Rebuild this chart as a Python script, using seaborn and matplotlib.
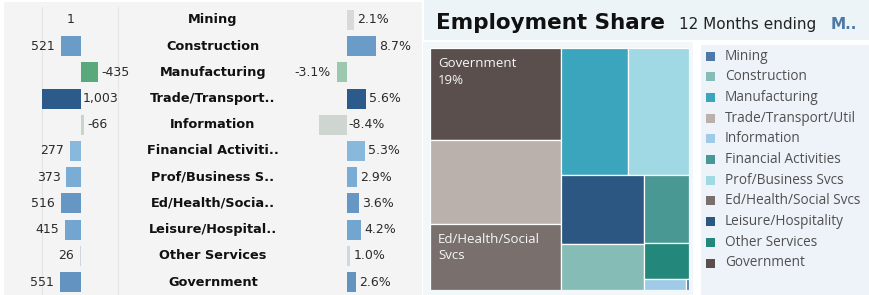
import numpy as np
import pandas as pd
import matplotlib
matplotlib.use("Agg")
import matplotlib.pyplot as plt
import matplotlib.transforms as mtransforms
from matplotlib.patches import Rectangle
import seaborn as sns

# ---------------- data ----------------
industries = ["Mining", "Construction", "Manufacturing", "Trade/Transport/Util",
              "Information", "Financial Activities", "Prof/Business Svcs",
              "Ed/Health/Social Svcs", "Leisure/Hospitality", "Other Services",
              "Government"]
row_labels = ["Mining", "Construction", "Manufacturing", "Trade/Transport..",
              "Information", "Financial Activiti..", "Prof/Business S..",
              "Ed/Health/Socia..", "Leisure/Hospital..", "Other Services",
              "Government"]
job_change = [1, 521, -435, 1003, -66, 277, 373, 516, 415, 26, 551]
pct_change = [2.1, 8.7, -3.1, 5.6, -8.4, 5.3, 2.9, 3.6, 4.2, 1.0, 2.6]
employment_share = [0.05, 6.0, 13.5, 17.7, 0.7, 4.9, 12.3, 13.8, 9.1, 2.6, 19.3]

change_colors = ["#d7d7d7", "#6a9cc7", "#59a97c", "#2c5a8b", "#c5d7cb", "#88b8dc",
                 "#79add5", "#6697c4", "#72a6d1", "#cdd6df", "#6394c1"]
pct_colors = ["#d9d9d9", "#6a9cc7", "#9bc8ae", "#2c5a8b", "#cfd5d1", "#88b8dc",
              "#79add5", "#6697c4", "#72a6d1", "#cfd7df", "#6394c1"]
share_colors = ["#4e79a7", "#86bcb6", "#3aa5bc", "#bab0ac", "#a0cbe8", "#499894",
                "#a0d9e4", "#79706e", "#2b5782", "#23877b", "#5a4f4d"]
tile_labels = {"Government": "Government\n{pct}%", "Ed/Health/Social Svcs": "Ed/Health/Social\nSvcs"}

title = "Employment Share"
subtitle = "12 Months ending"
subtitle_tail = "M.."

df = pd.DataFrame({"label": row_labels, "change": job_change, "pct": pct_change})

# ---------------- figure helpers ----------------
W, H = 869, 295
fig = plt.figure(figsize=(W / 100, H / 100), dpi=100)
fig.patch.set_facecolor("white")
PX = mtransforms.Affine2D().scale(1 / W, -1 / H).translate(0, 1) + fig.transFigure


def ax_px(x0, y0, x1, y1):
    ax = fig.add_axes([x0 / W, 1 - y1 / H, (x1 - x0) / W, (y1 - y0) / H])
    ax.patch.set_alpha(0)
    return ax


def bg(x0, y0, x1, y1, color):
    fig.add_artist(Rectangle((x0, y0), x1 - x0, y1 - y0, transform=PX,
                             facecolor=color, edgecolor="none", zorder=-5))


def px2pt(p):
    return p * 72 / 100


# backgrounds
bg(4, 2, 422, 295, "#f4f4f4")
bg(424, 0, 869, 40, "#edf4f8")
bg(423, 42, 693, 295, "#f2f8f9")
bg(701, 45, 869, 295, "#eef2f9")

n = len(row_labels)
ROW_TOP, ROW_BOT = 6.9, 295.1


def bar_labels(ax, values, fmt, gap_out_left=6, gap_out_right=3.5):
    renderer = fig.canvas.get_renderer()
    axbb = ax.get_window_extent(renderer)
    for i, v in enumerate(values):
        x_end = ax.transData.transform((v, i))[0]
        x_zero = ax.transData.transform((0, i))[0]
        goes_left = x_end < x_zero
        kw = dict(va="center", fontsize=9, color="#2b2b2b", textcoords="offset points",
                  annotation_clip=False)
        if goes_left:
            t = ax.annotate(fmt(v), xy=(v, i), xytext=(-px2pt(gap_out_left), 0), ha="right", **kw)
        else:
            t = ax.annotate(fmt(v), xy=(v, i), xytext=(px2pt(gap_out_right), 0), ha="left", **kw)
        bb = t.get_window_extent(renderer)
        if bb.x0 < axbb.x0 or bb.x1 > axbb.x1:
            t.remove()
            if goes_left:
                ax.annotate(fmt(v), xy=(0, i), xytext=(px2pt(1.5), 0), ha="left", **kw)
            else:
                ax.annotate(fmt(v), xy=(0, i), xytext=(-px2pt(1.5), 0), ha="right", **kw)


# ---------------- row labels (with faint pane divider) ----------------
axm = ax_px(118, ROW_TOP, 308, ROW_BOT)
axm.set_zorder(0)
axm.set_xlim(0, 1)
axm.set_ylim(n - 0.5, -0.5)
axm.set_xticks([]); axm.set_yticks([])
for s in ["top", "right", "bottom"]:
    axm.spines[s].set_visible(False)
axm.spines["left"].set_color("#e6e6e6")
axm.spines["left"].set_linewidth(0.8)
for i, lab in enumerate(row_labels):
    axm.text(0.5, i, lab, ha="center", va="center", fontsize=9.3,
             fontweight="bold", color="#111111")

# ---------------- change bars ----------------
ax1 = ax_px(4, ROW_TOP, 150, ROW_BOT)
ax1.set_zorder(2)
sns.barplot(data=df, x="change", y="label", hue="label", palette=change_colors,
            legend=False, orient="h", width=0.76, saturation=1, ax=ax1, zorder=2)
ax1.set_xlim(1980, -1775)
ax1.set_ylim(n - 0.5, -0.5)
ax1.axvline(1000, color="#e4e4e4", lw=0.8, zorder=0)
ax1.set_xticks([]); ax1.set_yticks([])
ax1.set_xlabel(""); ax1.set_ylabel("")
for s in ax1.spines.values():
    s.set_visible(False)
bar_labels(ax1, job_change, lambda v: f"{v:,}")

# ---------------- pct bars ----------------
ax2 = ax_px(292, ROW_TOP, 412, ROW_BOT)
sns.barplot(data=df, x="pct", y="label", hue="label", palette=pct_colors,
            legend=False, orient="h", width=0.76, saturation=1, ax=ax2)
ax2.set_xlim(-16.5, 19.5)
ax2.set_ylim(n - 0.5, -0.5)
ax2.axis("off")
bar_labels(ax2, pct_change, lambda v: f"{v:.1f}%")

# ---------------- title ----------------
fig.text(436, 29, title, transform=PX, fontsize=15.5, fontweight="bold",
         color="#111111", va="baseline", ha="left")
fig.text(679, 29, subtitle, transform=PX, fontsize=11, color="#222222",
         va="baseline", ha="left")
fig.text(831, 29, subtitle_tail, transform=PX, fontsize=11, fontweight="bold",
         color="#4e79a7", va="baseline", ha="left")


# ---------------- treemap ----------------
def worst_ratio(areas, side):
    thick = sum(areas) / side
    r = 0
    for a in areas:
        length = a / thick
        r = max(r, length / thick, thick / length)
    return r


def squarify(items, x, y, w, h, tol=2.5):
    rects = []
    items = list(items)
    while items:
        if len(items) == 1:
            rects.append((items[0][0], x, y, w, h))
            break
        vertical = w > h
        side = h if vertical else w
        row = [items[0]]
        cur = worst_ratio([a for _, a in row], side)
        k = 1
        while k < len(items):
            cand = row + [items[k]]
            r = worst_ratio([a for _, a in cand], side)
            if r <= cur or r <= tol:
                row, cur = cand, r
                k += 1
            else:
                break
        items = items[k:]
        thick = sum(a for _, a in row) / side
        pos = 0
        for idx, a in row:
            length = a / thick
            if vertical:
                rects.append((idx, x, y + pos, thick, length))
            else:
                rects.append((idx, x + pos, y, length, thick))
            pos += length
        if vertical:
            x += thick; w -= thick
        else:
            y += thick; h -= thick
    return rects


TX0, TY0, TX1, TY1 = 430, 48, 688.5, 289.5
axt = ax_px(TX0, TY0, TX1, TY1)
tw, th = TX1 - TX0, TY1 - TY0
axt.set_xlim(0, tw)
axt.set_ylim(th, 0)
axt.axis("off")
share = np.array(employment_share, dtype=float)
total = share.sum()
order = np.argsort(-share, kind="stable")
items = [(int(i), share[i] / total * tw * th) for i in order]
for idx, x, y, w, h in squarify(items, 0, 0, tw, th):
    axt.add_patch(Rectangle((x, y), w, h, facecolor=share_colors[idx],
                            edgecolor="white", linewidth=0.9))
    name = industries[idx]
    if name in tile_labels:
        txt = tile_labels[name].format(pct=int(round(share[idx] / total * 100)))
        axt.text(x + 8, y + 9, txt, ha="left", va="top", fontsize=9.5,
                 family="Open Sans", color="#f7f7f7", linespacing=1.35)

# ---------------- legend ----------------
for i, name in enumerate(industries):
    cy = 56 + 20.7 * i
    fig.add_artist(Rectangle((706, cy - 4.5), 9, 9, transform=PX,
                             facecolor=share_colors[i], edgecolor="none"))
    fig.text(725, cy, name, transform=PX, fontsize=9.8, family="Open Sans",
             color="#505050", va="center", ha="left")

fig.savefig("out.png", dpi=100)
